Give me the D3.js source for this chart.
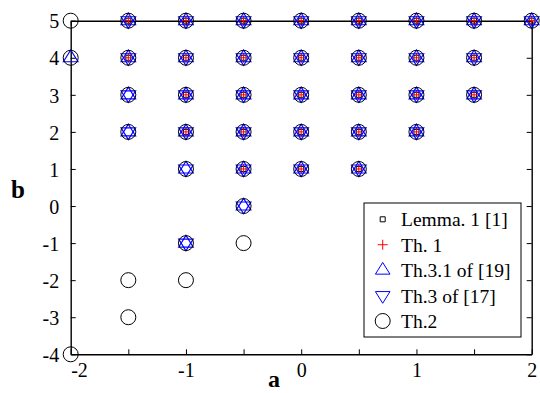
<!DOCTYPE html>
<html><head><meta charset="utf-8">
<script src="https://cdn.jsdelivr.net/npm/d3@7"></script>
<style>body{margin:0;background:#fff}svg{display:block}</style>
</head><body>
<svg id="c" width="540" height="393"></svg>
<script>
// ---- data ----
const xTicks = [-2, -1.5, -1, -0.5, 0, 0.5, 1, 1.5, 2];
const xTickLabels = ["-2", "", "-1", "", "0", "", "1", "", "2"];
const yTicks = [-4, -3, -2, -1, 0, 1, 2, 3, 4, 5];
const yTickLabels = ["-4", "-3", "-2", "-1", "0", "1", "2", "3", "4", "5"];
const xLabel = "a";
const yLabel = "b";

// points (a, b) for each series
const lemma1 = [
  [-1.5,5],[-1,5],[-0.5,5],[0,5],[0.5,5],[1,5],[1.5,5],[2,5],
  [-1.5,4],[-1,4],[-0.5,4],[0,4],[0.5,4],[1,4],[1.5,4],
  [-1,3],[-0.5,3],[0,3],[0.5,3],[1,3],[1.5,3],
  [-1,2],[-0.5,2],[0,2],[0.5,2],[1,2],
  [-0.5,1],[0,1],[0.5,1]
];
const th1 = [
  [-1.5,5],[-1,5],[-0.5,5],[0,5],[0.5,5],[1,5],[1.5,5],[2,5],
  [-1.5,4],[-1,4],[-0.5,4],[0,4],[0.5,4],[1,4],[1.5,4],
  [-1,3],[-0.5,3],[0,3],[0.5,3],[1,3],[1.5,3],
  [-1,2],[-0.5,2],[0,2],[0.5,2],[1,2],
  [-0.5,1],[0,1],[0.5,1]
];
const th31of19 = [
  [-1.5,5],[-1,5],[-0.5,5],[0,5],[0.5,5],[1,5],[1.5,5],[2,5],
  [-2,4],[-1.5,4],[-1,4],[-0.5,4],[0,4],[0.5,4],[1,4],[1.5,4],
  [-1.5,3],[-1,3],[-0.5,3],[0,3],[0.5,3],[1,3],[1.5,3],
  [-1.5,2],[-1,2],[-0.5,2],[0,2],[0.5,2],[1,2],
  [-1,1],[-0.5,1],[0,1],[0.5,1],
  [-0.5,0],
  [-1,-1]
];
const th3of17 = [
  [-1.5,5],[-1,5],[-0.5,5],[0,5],[0.5,5],[1,5],[1.5,5],[2,5],
  [-1.5,4],[-1,4],[-0.5,4],[0,4],[0.5,4],[1,4],[1.5,4],
  [-1.5,3],[-1,3],[-0.5,3],[0,3],[0.5,3],[1,3],[1.5,3],
  [-1.5,2],[-1,2],[-0.5,2],[0,2],[0.5,2],[1,2],
  [-1,1],[-0.5,1],[0,1],[0.5,1],
  [-0.5,0],
  [-1,-1]
];
const th2 = [
  [-2,5],[-1.5,5],[-1,5],[-0.5,5],[0,5],[0.5,5],[1,5],[1.5,5],[2,5],
  [-2,4],[-1.5,4],[-1,4],[-0.5,4],[0,4],[0.5,4],[1,4],[1.5,4],
  [-1.5,3],[-1,3],[-0.5,3],[0,3],[0.5,3],[1,3],[1.5,3],
  [-1.5,2],[-1,2],[-0.5,2],[0,2],[0.5,2],[1,2],
  [-1,1],[-0.5,1],[0,1],[0.5,1],
  [-0.5,0],
  [-1,-1],[-0.5,-1],
  [-1.5,-2],[-1,-2],
  [-1.5,-3],
  [-2,-4]
];
const seriesNames = ["Lemma. 1 [1]", "Th. 1", "Th.3.1 of [19]", "Th.3 of [17]", "Th.2"];

// ---- drawing ----
const svg = d3.select("#c");
const FONT = "'Liberation Serif','Times New Roman',serif";
const x = d3.scaleLinear().domain([-2, 2]).range([70.7, 531.7]);
const y = d3.scaleLinear().domain([-4, 5]).range([354.3, 20.7]);

const tickLen = 5;
const axisG = svg.append("g");
const fmtX = d => xTickLabels[xTicks.indexOf(d)];
const fmtY = d => yTickLabels[yTicks.indexOf(d)];

const gb = axisG.append("g").attr("transform", `translate(0,${y(-4)})`)
  .call(d3.axisBottom(x).tickValues(xTicks).tickFormat(fmtX).tickSize(-tickLen).tickSizeOuter(0));
gb.selectAll("text").attr("y", 23).attr("dy", 0);
gb.selectAll("text").filter(d => d === -2).attr("text-anchor", "start").attr("x", 0);

const gt = axisG.append("g").attr("transform", `translate(0,${y(5)})`)
  .call(d3.axisTop(x).tickValues(xTicks).tickFormat("").tickSize(-tickLen).tickSizeOuter(0));

const gl = axisG.append("g").attr("transform", `translate(${x(-2)},0)`)
  .call(d3.axisLeft(y).tickValues(yTicks).tickFormat(fmtY).tickSize(-tickLen).tickSizeOuter(0));
gl.selectAll("text").attr("x", -11.5).attr("dy", "0.36em");

const gr = axisG.append("g").attr("transform", `translate(${x(2)},0)`)
  .call(d3.axisRight(y).tickValues(yTicks).tickFormat("").tickSize(-tickLen).tickSizeOuter(0));

axisG.selectAll("path.domain").attr("stroke", "#000").attr("stroke-width", 1.4);
axisG.selectAll(".tick line").attr("stroke", "#000").attr("stroke-width", 1);
axisG.selectAll("text").attr("font-family", FONT).attr("font-size", 20).attr("fill", "#000");

// axis labels
svg.append("text").text(xLabel).attr("x", 274).attr("y", 387)
  .attr("text-anchor", "middle").attr("font-family", FONT).attr("font-weight", "bold").attr("font-size", 24);
svg.append("text").text(yLabel).attr("x", 18).attr("y", 198)
  .attr("text-anchor", "middle").attr("font-family", FONT).attr("font-weight", "bold").attr("font-size", 25);

// marker shapes
const symSquare = { draw(c) { c.moveTo(-2.5,-2.5); c.lineTo(2.5,-2.5); c.lineTo(2.5,2.5); c.lineTo(-2.5,2.5); c.closePath(); } };
const symPlus = { draw(c) { c.moveTo(-5,0); c.lineTo(5,0); c.moveTo(0,-5); c.lineTo(0,5); } };
const symUp = { draw(c) { c.moveTo(0,-7.7); c.lineTo(7.3,4); c.lineTo(-7.3,4); c.closePath(); } };
const symDown = { draw(c) { c.moveTo(0,7.7); c.lineTo(7.3,-4); c.lineTo(-7.3,-4); c.closePath(); } };
const symCircle = { draw(c) { c.moveTo(7.5,0); c.arc(0,0,7.5,0,2*Math.PI); } };

const styles = [
  { data: lemma1, sym: symSquare, color: "#000", w: 1 },
  { data: th1, sym: symPlus, color: "#ff0000", w: 1 },
  { data: th31of19, sym: symUp, color: "#0000ff", w: 1.15 },
  { data: th3of17, sym: symDown, color: "#0000ff", w: 1.15 },
  { data: th2, sym: symCircle, color: "#000", w: 1 }
];

const markG = svg.append("g");
styles.forEach(s => {
  markG.append("g").selectAll("path").data(s.data).join("path")
    .attr("transform", d => `translate(${x(d[0])},${y(d[1])})`)
    .attr("d", d3.symbol().type(s.sym)())
    .attr("fill", "none").attr("stroke", s.color).attr("stroke-width", s.w);
});

// legend
const leg = svg.append("g");
leg.append("rect").attr("x", 364).attr("y", 203).attr("width", 157).attr("height", 134)
  .attr("fill", "#fff").attr("stroke", "#000").attr("stroke-width", 1);
const rowY = d3.scalePoint().domain(seriesNames).range([219.3, 321]);
seriesNames.forEach((name, i) => {
  const s = styles[i];
  leg.append("path").attr("transform", `translate(382.7,${rowY(name)})`)
    .attr("d", d3.symbol().type(s.sym)())
    .attr("fill", "none").attr("stroke", s.color).attr("stroke-width", 1);
  leg.append("text").text(name).attr("x", 401).attr("y", rowY(name) + 7)
    .attr("font-family", FONT).attr("font-size", 19.5).attr("fill", "#000");
});
</script>
</body></html>
